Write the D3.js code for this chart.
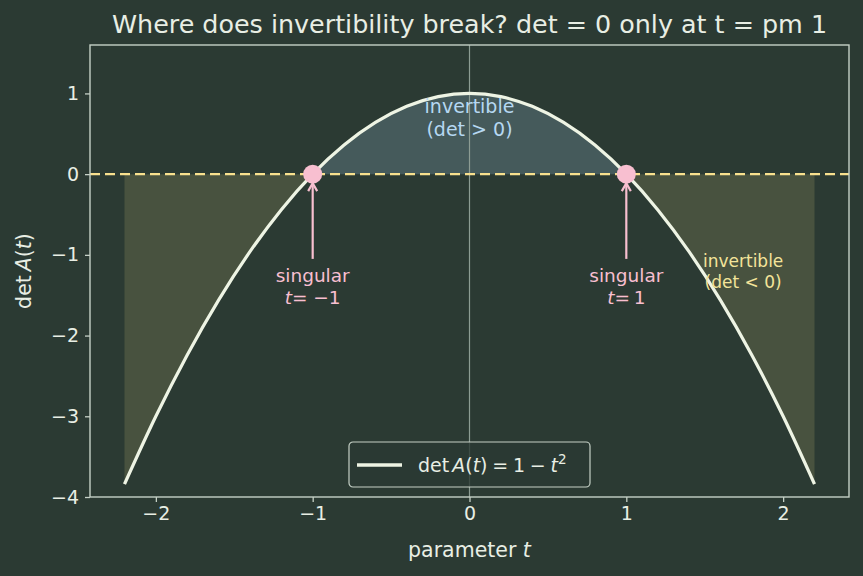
<!DOCTYPE html>
<html>
<head>
<meta charset="utf-8">
<script src="https://cdn.jsdelivr.net/npm/d3@7"></script>
<style>
  body { margin: 0; background: #2b3a33; }
  svg { display: block; font-family: "DejaVu Sans", sans-serif; }
</style>
</head>
<body>
<script>
// data
var tValues = [-2.2, -2.0, -1.8, -1.6, -1.4, -1.2, -1.0, -0.8, -0.6, -0.4, -0.2, 0,
               0.2, 0.4, 0.6, 0.8, 1.0, 1.2, 1.4, 1.6, 1.8, 2.0, 2.2];
var detValues = [-3.84, -3.0, -2.24, -1.56, -0.96, -0.44, 0, 0.36, 0.64, 0.84, 0.96, 1,
                 0.96, 0.84, 0.64, 0.36, 0, -0.44, -0.96, -1.56, -2.24, -3.0, -3.84];
var singularT = [-1, 1];
var singularLabels = ["= \u22121", "=\u20091"];
var xTicks = [-2, -1, 0, 1, 2];
var yTicks = [-4, -3, -2, -1, 0, 1];

var width = 863,
    height = 576,
    margin = {top: 45, right: 14, bottom: 79, left: 90};

var bg = "#2b3a33",
    fg = "#e8eee4",
    spine = "#c5d0c6";

var svg = d3.select("body").append("svg")
    .attr("width", width)
    .attr("height", height);

svg.append("rect")
    .attr("width", width)
    .attr("height", height)
    .attr("fill", bg);

var x = d3.scaleLinear().domain([-2.42, 2.42]).range([margin.left, width - margin.right]);
var y = d3.scaleLinear().domain([-4, 1.6]).range([height - margin.bottom, margin.top]);

var pts = tValues.map(function (t, i) { return {t: t, d: detValues[i]}; });

var g = svg.append("g");

// shaded regions
var areaPos = d3.area()
    .defined(function (d) { return d.d >= 0; })
    .x(function (d) { return x(d.t); })
    .y0(y(0))
    .y1(function (d) { return y(d.d); })
    .curve(d3.curveMonotoneX);

var areaNeg = d3.area()
    .defined(function (d) { return d.d <= 0; })
    .x(function (d) { return x(d.t); })
    .y0(y(0))
    .y1(function (d) { return y(d.d); })
    .curve(d3.curveMonotoneX);

g.append("path").attr("d", areaNeg(pts)).attr("fill", "#48523f");
g.append("path").attr("d", areaPos(pts)).attr("fill", "#455a5b");

// vertical t=0 line
g.append("line")
    .attr("x1", x(0)).attr("x2", x(0))
    .attr("y1", y.range()[1]).attr("y2", y.range()[0])
    .attr("stroke", "#8c9c93").attr("stroke-width", 1.2);

// zero line (dashed)
g.append("line")
    .attr("x1", x.range()[0]).attr("x2", x.range()[1])
    .attr("y1", y(0)).attr("y2", y(0))
    .attr("stroke", "#f8e08e").attr("stroke-width", 2.2)
    .attr("stroke-dasharray", "10,5");

// curve
var line = d3.line()
    .x(function (d) { return x(d.t); })
    .y(function (d) { return y(d.d); })
    .curve(d3.curveMonotoneX);

g.append("path")
    .attr("d", line(pts))
    .attr("fill", "none")
    .attr("stroke", "#eef4e4")
    .attr("stroke-width", 3.2);

// arrows + labels
var pink = "#f8bfd0";
singularT.forEach(function (t, i) {
    var xx = x(t);
    var yTop = y(0) + 9, yBot = y(-1.05);
    g.append("line")
        .attr("x1", xx).attr("x2", xx)
        .attr("y1", yBot).attr("y2", yTop + 2)
        .attr("stroke", pink).attr("stroke-width", 2.2);
    g.append("path")
        .attr("d", "M" + (xx - 4.5) + "," + (yTop + 8) + "L" + xx + "," + yTop + "L" + (xx + 4.5) + "," + (yTop + 8))
        .attr("fill", "none").attr("stroke", pink).attr("stroke-width", 2.2);
    var txt = g.append("text")
        .attr("x", xx).attr("y", 282)
        .attr("text-anchor", "middle")
        .attr("fill", pink).attr("font-size", 18.5);
    txt.append("tspan").attr("x", xx).text("singular");
    var l2 = txt.append("tspan").attr("x", xx).attr("dy", 22);
    l2.append("tspan").attr("font-style", "italic").text("t");
    l2.append("tspan").text(singularLabels[i]);
});

// singular markers
g.selectAll("circle.sing")
    .data(singularT)
    .enter().append("circle")
    .attr("class", "sing")
    .attr("cx", function (d) { return x(d); })
    .attr("cy", y(0))
    .attr("r", 9.5)
    .attr("fill", pink);

// region labels
var posLab = g.append("text")
    .attr("text-anchor", "middle").attr("fill", "#b6d8f2").attr("font-size", 19)
    .attr("y", 113);
posLab.append("tspan").attr("x", x(0)).text("invertible");
posLab.append("tspan").attr("x", x(0)).attr("dy", 23).text("(det > 0)");

var negLab = g.append("text")
    .attr("text-anchor", "middle").attr("fill", "#f3e49a").attr("font-size", 17)
    .attr("y", 267);
negLab.append("tspan").attr("x", x(1.745)).text("invertible");
negLab.append("tspan").attr("x", x(1.745)).attr("dy", 21).text("(det < 0)");

// axes
var fmt = function (d) { return d < 0 ? "\u2212" + (-d) : d; };
var xAxis = svg.append("g")
    .attr("transform", "translate(0," + y.range()[0] + ")")
    .call(d3.axisBottom(x).tickValues(xTicks).tickSize(5).tickPadding(5).tickFormat(fmt));
var yAxis = svg.append("g")
    .attr("transform", "translate(" + x.range()[0] + ",0)")
    .call(d3.axisLeft(y).tickValues(yTicks).tickSize(5).tickPadding(6).tickFormat(fmt));

[xAxis, yAxis].forEach(function (a) {
    a.select(".domain").remove();
    a.selectAll("line").attr("stroke", spine).attr("stroke-width", 1.3);
    a.selectAll("text").attr("fill", fg).attr("font-size", 19)
        .attr("font-family", "DejaVu Sans, sans-serif");
});

// frame
svg.append("rect")
    .attr("x", x.range()[0]).attr("y", y.range()[1])
    .attr("width", x.range()[1] - x.range()[0])
    .attr("height", y.range()[0] - y.range()[1])
    .attr("fill", "none").attr("stroke", spine).attr("stroke-width", 1.4);

// legend
var leg = svg.append("g").attr("transform", "translate(349,442)");
leg.append("rect")
    .attr("width", 241).attr("height", 45).attr("rx", 4)
    .attr("fill", bg).attr("fill-opacity", 0.8)
    .attr("stroke", spine).attr("stroke-width", 1.2);
leg.append("line")
    .attr("x1", 8).attr("x2", 53).attr("y1", 23).attr("y2", 23)
    .attr("stroke", "#eef4e4").attr("stroke-width", 3.5);
var legText = leg.append("text").attr("x", 69).attr("y", 30)
    .attr("fill", fg).attr("font-size", 19);
legText.append("tspan").text("det");
legText.append("tspan").attr("font-style", "italic").attr("dx", 3).text("A");
legText.append("tspan").text("(");
legText.append("tspan").attr("font-style", "italic").text("t");
legText.append("tspan").text(")\u2005=\u20051\u2005\u2212\u2005");
legText.append("tspan").attr("font-style", "italic").text("t");
legText.append("tspan").attr("dy", -8).attr("font-size", 13.5).text("2");

// title + axis labels
svg.append("text")
    .attr("x", (x.range()[0] + x.range()[1]) / 2).attr("y", 33)
    .attr("text-anchor", "middle").attr("fill", fg).attr("font-size", 25.4)
    .text("Where does invertibility break? det = 0 only at t = pm 1");

var xl = svg.append("text")
    .attr("x", (x.range()[0] + x.range()[1]) / 2).attr("y", 557)
    .attr("text-anchor", "middle").attr("fill", fg).attr("font-size", 20.5);
xl.append("tspan").text("parameter ");
xl.append("tspan").attr("font-style", "italic").text("t");

var yl = svg.append("text")
    .attr("transform", "translate(31," + ((y.range()[0] + y.range()[1]) / 2) + ") rotate(-90)")
    .attr("text-anchor", "middle").attr("fill", fg).attr("font-size", 20.5);
yl.append("tspan").text("det");
yl.append("tspan").attr("font-style", "italic").attr("dx", 4).text("A");
yl.append("tspan").text("(");
yl.append("tspan").attr("font-style", "italic").text("t");
yl.append("tspan").text(")");
</script>
</body>
</html>
